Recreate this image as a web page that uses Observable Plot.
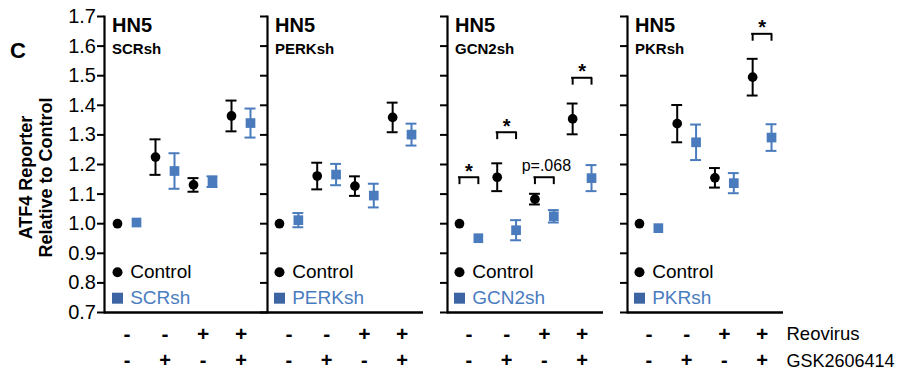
<!DOCTYPE html>
<html><head><meta charset="utf-8">
<script src="https://cdn.jsdelivr.net/npm/d3@7"></script>
<script src="https://cdn.jsdelivr.net/npm/@observablehq/plot@0.6"></script>
<style>
body{margin:0;background:#fff;}
#chart{position:relative;width:904px;height:372px;overflow:hidden;font-family:"Liberation Sans",Arial,sans-serif;}
#chart svg{position:absolute;top:0;}
</style></head><body><div id="chart"></div>
<script>
// ---- data ----
const cellLine = "HN5";
const panels = ["SCRsh", "PERKsh", "GCN2sh", "PKRsh"];
const reovirus = ["-", "-", "+", "+"];
const gsk = ["-", "+", "-", "+"];
const rowLabels = ["Reovirus", "GSK2606414"];
const controlMean = [
  [1.000, 1.225, 1.131, 1.364],
  [1.000, 1.161, 1.127, 1.359],
  [1.000, 1.157, 1.083, 1.354],
  [1.000, 1.338, 1.155, 1.495]
];
const controlErr = [
  [0, 0.060, 0.023, 0.052],
  [0, 0.045, 0.033, 0.050],
  [0, 0.047, 0.018, 0.052],
  [0, 0.063, 0.033, 0.062]
];
const shMean = [
  [1.004, 1.178, 1.142, 1.340],
  [1.012, 1.166, 1.095, 1.301],
  [0.951, 0.978, 1.025, 1.154],
  [0.985, 1.275, 1.137, 1.291]
];
const shErr = [
  [0, 0.060, 0.018, 0.049],
  [0.024, 0.036, 0.040, 0.037],
  [0, 0.034, 0.021, 0.044],
  [0, 0.060, 0.034, 0.045]
];
const brackets = [
  {panel: "GCN2sh", cond: 0, y: 1.157, label: "*"},
  {panel: "GCN2sh", cond: 1, y: 1.309, label: "*"},
  {panel: "GCN2sh", cond: 2, y: 1.157, label: "p=.068"},
  {panel: "GCN2sh", cond: 3, y: 1.493, label: "*"},
  {panel: "PKRsh", cond: 3, y: 1.6415, label: "*"}
];
const yTicks = [0.7, 0.8, 0.9, 1.0, 1.1, 1.2, 1.3, 1.4, 1.5, 1.6, 1.7];
const yDomain = [0.7, 1.7];
const yTitle = "ATF4 Reporter\nRelative to Control";
const panelLetter = "C";

// ---- style / layout ----
const BLACK = "#000";
const BLUE = "#4a7bbd";
const BLUE_LEG = "#3d64a3";
const BLUE_TXT = "#4a7cc0";
const layout = [
  {left: 0, width: 267, ml: 104, mr: 0, il: 3.5, ir: 7.5},
  {left: 259, width: 164, ml: 8, mr: 0, il: 2.55, ir: 2.55},
  {left: 439, width: 164, ml: 8, mr: 0, il: 2.55, ir: 2.55},
  {left: 619, width: 285, ml: 8, mr: 121, il: 2.55, ir: 2.55}
];
const H = 372, MT = 16, MB = 60;
const ROW1 = 22, ROW2 = 48.5;
const key = (i, s) => `${i}|${s}`;
const chart = document.getElementById("chart");

panels.forEach((name, p) => {
  const L = layout[p];
  const keys = [];
  const ctrl = [], sh = [];
  for (let i = 0; i < 4; i++) {
    keys.push(key(i, "C"), key(i, "S"));
    ctrl.push({key: key(i, "C"), cond: i, mean: controlMean[p][i], err: controlErr[p][i]});
    sh.push({key: key(i, "S"), cond: i, mean: shMean[p][i], err: shErr[p][i]});
  }
  const bw = (L.width - L.ml - L.mr - L.il - L.ir) / keys.length;
  const lo = d => d.mean - d.err, hi = d => d.mean + d.err;
  const errMarks = (data, color) => {
    const e = data.filter(d => d.err > 0);
    return [
      Plot.ruleX(e, {x: "key", y1: lo, y2: hi, stroke: color, strokeWidth: 2}),
      Plot.tickY(e, {x: "key", y: hi, stroke: color, strokeWidth: 2, insetLeft: 4, insetRight: 4}),
      Plot.tickY(e, {x: "key", y: lo, stroke: color, strokeWidth: 2, insetLeft: 4, insetRight: 4})
    ];
  };
  const br = brackets.filter(b => b.panel === name);
  const marks = [
    Plot.frame({anchor: "left", strokeWidth: 2.2}),
    Plot.ruleY([yDomain[0]], {strokeWidth: 2.6}),
    Plot.axisY(yTicks, {tickSize: 7, tickPadding: 1.5, strokeWidth: 2, fontSize: 20,
      tickFormat: p === 0 ? (d => d.toFixed(1)) : (() => "")}),
    ...errMarks(ctrl, BLACK),
    ...errMarks(sh, BLUE),
    Plot.dot(ctrl, {x: "key", y: "mean", r: 4.85, fill: BLACK}),
    Plot.dot(sh, {x: "key", y: "mean", r: 5.47, symbol: "square", fill: BLUE}),
    // significance brackets
    Plot.ruleY(br, {x1: d => key(d.cond, "C"), x2: d => key(d.cond, "S"), y: "y",
      insetLeft: bw / 2, insetRight: bw / 2, strokeWidth: 2, strokeLinecap: "square"}),
    Plot.ruleX(br.flatMap(b => [{k: key(b.cond, "C"), y: b.y}, {k: key(b.cond, "S"), y: b.y}]),
      {x: "k", y1: "y", y2: d => d.y - 0.025, strokeWidth: 2}),
    Plot.text(br.filter(b => b.label === "*"), {x: d => key(d.cond, "C"), y: "y", text: "label",
      dx: bw / 2, dy: 0.5, lineAnchor: "bottom", textAnchor: "middle", fontSize: 20, fontWeight: "bold"}),
    Plot.text(br.filter(b => b.label !== "*"), {x: d => key(d.cond, "C"), y: "y", text: "label",
      dx: bw / 2 + 2, dy: -6.5, lineAnchor: "bottom", textAnchor: "middle", fontSize: 16}),
    // panel titles
    Plot.text([cellLine], {text: d => d, frameAnchor: "top-left", dx: 7.5, dy: 15.7,
      lineAnchor: "bottom", textAnchor: "start", fontWeight: "bold", fontSize: 20}),
    Plot.text([name], {text: d => d, frameAnchor: "top-left", dx: 7.5, dy: 37.3,
      lineAnchor: "bottom", textAnchor: "start", fontWeight: "bold", fontSize: 15}),
    // legend
    Plot.dot(["Control"], {x: () => keys[0], frameAnchor: "bottom", dy: -40.3, r: 5, fill: BLACK}),
    Plot.text(["Control"], {text: d => d, x: () => keys[0], frameAnchor: "bottom", dx: 12.7, dy: -40.3,
      textAnchor: "start", lineAnchor: "middle", fontSize: 19, fill: BLACK}),
    Plot.dot([name], {x: () => keys[0], frameAnchor: "bottom", dy: -14.3, r: 6.2, symbol: "square", fill: BLUE_LEG}),
    Plot.text([name], {text: d => d, x: () => keys[0], frameAnchor: "bottom", dx: 12.7, dy: -14.3,
      textAnchor: "start", lineAnchor: "middle", fontSize: 19, fill: BLUE_TXT}),
    // treatment rows
    Plot.text(d3.range(4), {x: i => key(i, "C"), text: i => reovirus[i], frameAnchor: "bottom",
      dx: bw / 2, dy: ROW1, textAnchor: "middle", lineAnchor: "middle", fontSize: 21, fontWeight: "bold"}),
    Plot.text(d3.range(4), {x: i => key(i, "C"), text: i => gsk[i], frameAnchor: "bottom",
      dx: bw / 2, dy: ROW2, textAnchor: "middle", lineAnchor: "middle", fontSize: 20, fontWeight: "bold"})
  ];
  if (p === 0) {
    marks.push(
      Plot.text([yTitle], {text: d => d, frameAnchor: "left", dx: -69, dy: 13, rotate: -90,
        textAnchor: "middle", fontWeight: "bold", fontSize: 18, lineHeight: 1.1, lineAnchor: "middle"}),
      Plot.text([panelLetter], {text: d => d, frameAnchor: "top-left", dx: -86.5, dy: 34,
        textAnchor: "middle", fontWeight: "bold", fontSize: 22, lineAnchor: "middle"})
    );
  }
  if (p === panels.length - 1) {
    marks.push(
      Plot.text([rowLabels[0]], {text: d => d, frameAnchor: "bottom-right", dx: 3, dy: ROW1,
        textAnchor: "start", lineAnchor: "middle", fontSize: 18.5}),
      Plot.text([rowLabels[1]], {text: d => d, frameAnchor: "bottom-right", dx: 3, dy: ROW2,
        textAnchor: "start", lineAnchor: "middle", fontSize: 18})
    );
  }
  const svg = Plot.plot({
    width: L.width, height: H,
    marginLeft: L.ml, marginRight: L.mr, marginTop: MT, marginBottom: MB,
    x: {type: "band", domain: keys, paddingInner: 0, paddingOuter: 0, insetLeft: L.il, insetRight: L.ir, round: false, axis: null},
    y: {domain: yDomain},
    style: {background: "transparent", overflow: "visible", fontFamily: "'Liberation Sans', Arial, sans-serif", fontSize: "20px", color: "#000"},
    marks
  });
  svg.style.left = L.left + "px";
  chart.appendChild(svg);
});
</script></body></html>
